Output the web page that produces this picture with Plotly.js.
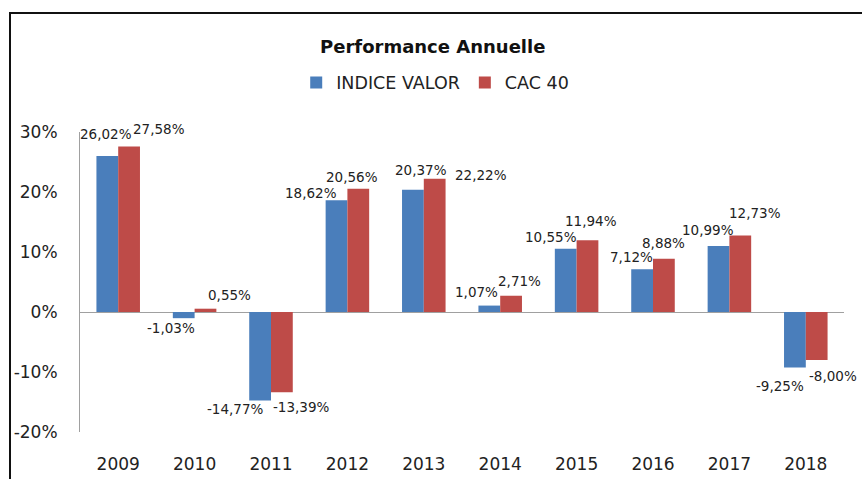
<!DOCTYPE html>
<html>
<head>
<meta charset="utf-8">
<script src="https://cdn.plot.ly/plotly-3.0.1.min.js"></script>
<style>
  html, body { margin: 0; padding: 0; background: #fff; }
  #chart { position: absolute; left: 0; top: 0; width: 862px; height: 479px; }
  #frame { position: absolute; left: 9px; top: 12px; width: 900px; height: 500px;
           border-top: 2px solid #111; border-left: 2px solid #111; pointer-events: none; }
</style>
</head>
<body>
<div id="chart"></div>
<div id="frame"></div>
<script>
// ---- data ----
const years = ['2009', '2010', '2011', '2012', '2013', '2014', '2015', '2016', '2017', '2018'];
const indiceValor = [26.02, -1.03, -14.77, 18.62, 20.37, 1.07, 10.55, 7.12, 10.99, -9.25];
const cac40 = [27.58, 0.55, -13.39, 20.56, 22.22, 2.71, 11.94, 8.88, 12.73, -8.00];
const yTickVals = [-20, -10, 0, 10, 20, 30];
const yTickText = ['-20%', '-10%', '0%', '10%', '20%', '30%'];

// ---- label placement (pixel offsets from the value point, as set manually in the original) ----
const blueDx = [-12, -24, -36, -36, -2.5, -24, -25.6, -22, -21.3, -26];
const blueDy = [22, -10, -8, 7.7, 19.5, 13.6, 11.4, 12, 15.8, -18.8];
const redDx = [41, 34.5, 30.2, 4.6, 57.5, 19, 14.4, 10.5, 25.7, 27.3];
const redDy = [18, 13.4, -14.7, 11.3, 3.4, 14.4, 19.4, 15.7, 22.3, -16.3];

const FONT = 'DejaVu Sans, Arial, sans-serif';
const BLUE = '#4A7EBB';
const RED = '#BE4B48';

function fmt(v) { return v.toFixed(2).replace('.', ',') + '%'; }

const traces = [
  { type: 'bar', name: 'INDICE VALOR', x: years, y: indiceValor,
    marker: { color: BLUE }, hoverinfo: 'none' },
  { type: 'bar', name: 'CAC 40', x: years, y: cac40,
    marker: { color: RED }, hoverinfo: 'none' }
];

const annotations = [];
years.forEach((yr, i) => {
  // on a category axis, a numeric x is the category's index
  annotations.push({ x: i, y: indiceValor[i], xref: 'x', yref: 'y', text: fmt(indiceValor[i]),
    showarrow: false, xanchor: 'center', yanchor: 'middle', xshift: blueDx[i], yshift: blueDy[i],
    font: { family: FONT, size: 13.5, color: '#222' } });
  annotations.push({ x: i, y: cac40[i], xref: 'x', yref: 'y', text: fmt(cac40[i]),
    showarrow: false, xanchor: 'center', yanchor: 'middle', xshift: redDx[i], yshift: redDy[i],
    font: { family: FONT, size: 13.5, color: '#222' } });
});

const layout = {
  width: 862, height: 479,
  margin: { l: 80, r: 18, t: 132, b: 47, pad: 0 },
  paper_bgcolor: 'rgba(0,0,0,0)', plot_bgcolor: 'rgba(0,0,0,0)',
  font: { family: FONT, color: '#222' },
  title: { text: '<b>Performance Annuelle</b>', xref: 'container', yref: 'container',
           x: 0.502, y: 0.9025, xanchor: 'center', yanchor: 'middle',
           font: { family: FONT, size: 18, color: '#111' } },
  showlegend: true,
  legend: { orientation: 'h', x: 0.283, y: 1.165, xanchor: 'left', yanchor: 'middle',
            font: { family: FONT, size: 17.5, color: '#222' }, bgcolor: 'rgba(0,0,0,0)' },
  barmode: 'group', bargap: 0.43, bargroupgap: 0,
  xaxis: { type: 'category', range: [-0.5, years.length - 0.5], autorange: false,
           showgrid: false, showline: false, ticks: '', zeroline: false,
           tickfont: { family: FONT, size: 17, color: '#222' }, ticklabelstandoff: 20,
           fixedrange: true },
  yaxis: { range: [-20, 30], autorange: false, tickvals: yTickVals, ticktext: yTickText, showgrid: false,
           showline: true, linecolor: '#a0a0a0', linewidth: 1, ticks: '',
           zeroline: true, zerolinecolor: '#a0a0a0', zerolinewidth: 1,
           tickfont: { family: FONT, size: 17, color: '#222' }, ticklabelstandoff: 18,
           fixedrange: true },
  annotations: annotations
};

Plotly.newPlot('chart', traces, layout, { displayModeBar: false, staticPlot: true });
</script>
</body>
</html>
